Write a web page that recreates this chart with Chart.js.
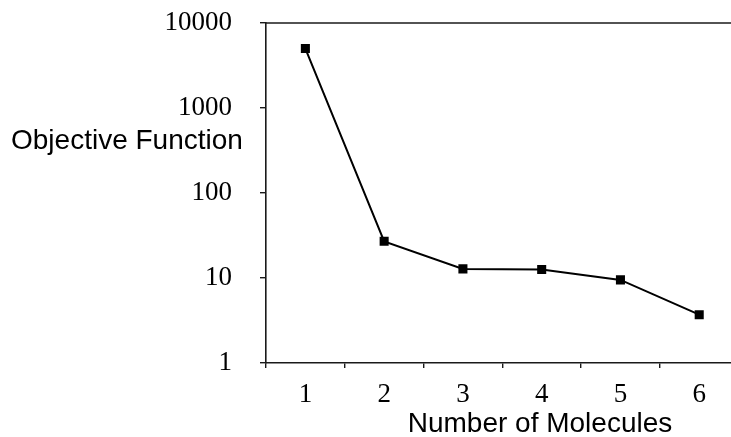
<!DOCTYPE html>
<html>
<head>
<meta charset="utf-8">
<script src="https://cdn.jsdelivr.net/npm/chart.js@4"></script>
<style>
  html, body { margin: 0; padding: 0; background: #fff; overflow: hidden; }
  #wrap { position: relative; width: 745px; height: 437px; }
</style>
</head>
<body>
<div id="wrap"><canvas id="chart"></canvas></div>
<script>
// values (log y axis)
const molecules = ["1", "2", "3", "4", "5", "6"];
const objective = [5000, 27, 12.8, 12.6, 9.5, 3.7];
const yTicks = [1, 10, 100, 1000, 10000];

const xTitle = "Number of Molecules";
const yTitle = "Objective Function";

const serif = "'Liberation Serif', 'Times New Roman', serif";
const sans = "'Liberation Sans', Arial, sans-serif";
const ink = "#1a1a1a";

// axis titles sit horizontally, outside the normal Chart.js title spots
const TitlesPlugin = {
  id: "titles",
  afterDraw(chart) {
    const { ctx, chartArea: { left, right, top, bottom } } = chart;
    ctx.save();
    ctx.fillStyle = "#000";
    ctx.font = "28px " + sans;
    ctx.textBaseline = "middle";
    ctx.textAlign = "left";
    ctx.fillText(yTitle, 11, top + 118);
    ctx.textAlign = "center";
    ctx.fillText(xTitle, 540, bottom + 61);
    // top frame line, no right frame
    ctx.strokeStyle = ink;
    ctx.lineWidth = 1.6;
    ctx.beginPath();
    ctx.moveTo(left, top);
    ctx.lineTo(right, top);
    ctx.stroke();
    ctx.restore();
  }
};

new Chart(document.getElementById("chart"), {
  type: "line",
  data: {
    labels: molecules,
    datasets: [{
      data: objective,
      borderColor: "#000",
      borderWidth: 2,
      backgroundColor: "#000",
      pointStyle: "rect",
      pointRadius: 6.4,
      pointBorderWidth: 0,
      tension: 0
    }]
  },
  options: {
    responsive: true,
    maintainAspectRatio: false,
    animation: false,
    layout: { padding: { top: 23, right: 5, left: 0, bottom: 0 } },
    plugins: { legend: { display: false }, tooltip: { enabled: false } },
    scales: {
      x: {
        type: "category",
        offset: true,
        grid: { drawOnChartArea: false, drawTicks: true, tickLength: 5, color: ink, offset: true, lineWidth: 1.4 },
        border: { color: ink, width: 1.6 },
        ticks: { color: "#000", font: { family: serif, size: 27 }, padding: 11 },
        afterFit(scale) { scale.height = 74; }
      },
      y: {
        type: "logarithmic",
        min: 1,
        max: 10000,
        grid: { drawOnChartArea: false, drawTicks: true, tickLength: 6, color: ink, lineWidth: 1.4 },
        border: { color: ink, width: 1.6 },
        ticks: {
          color: "#000",
          font: { family: serif, size: 27 },
          padding: 28,
          callback: (v) => String(v)
        },
        afterBuildTicks(scale) { scale.ticks = yTicks.map(v => ({ value: v })); },
        afterFit(scale) { scale.width = 266; scale.paddingTop = 0; scale.paddingBottom = 0; }
      }
    }
  },
  plugins: [TitlesPlugin]
});
</script>
</body>
</html>
